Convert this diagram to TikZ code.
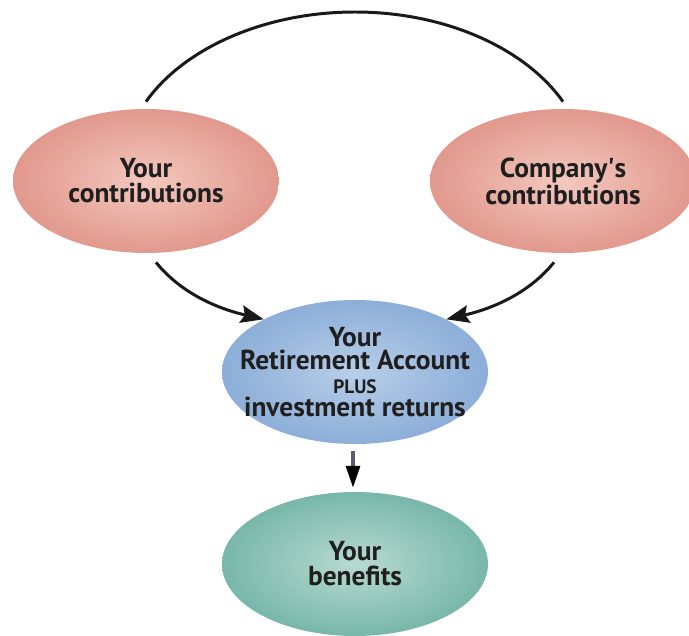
\documentclass[tikz,border=0pt]{standalone}
\usepackage{fontspec}
\setmainfont{PT Sans}
\usetikzlibrary{shapes.geometric,arrows.meta}

\definecolor{pinkedge}{RGB}{226,152,141}
\definecolor{pinkmid}{RGB}{243,200,190}
\definecolor{blueedge}{RGB}{140,174,216}
\definecolor{bluemid}{RGB}{184,206,233}
\definecolor{tealedge}{RGB}{120,183,170}
\definecolor{tealmid}{RGB}{184,218,209}
\definecolor{slate}{RGB}{85,95,115}

\tikzset{
  bubble/.style={ellipse, minimum width=5.32cm, minimum height=2.88cm,
    inner xsep=-14pt, inner ysep=0pt, align=center, text=black!88,
    font=\bfseries\fontsize{15.6}{14.2}\selectfont},
  pinkbubble/.style={bubble, shading=radial, inner color=pinkmid, outer color=pinkedge},
  bluebubble/.style={bubble, shading=radial, inner color=bluemid, outer color=blueedge,
    font=\bfseries\fontsize{15.6}{13.4}\selectfont},
  tealbubble/.style={bubble, shading=radial, inner color=tealmid, outer color=tealedge},
  link/.style={line width=1.7pt, black!90},
  flow/.style={link, -{Stealth[length=13pt,width=10pt,inset=2pt]}},
  stem/.style={line width=2.8pt, slate, -{Triangle[length=13pt,width=7.5pt,color=black]}}
}

\begin{document}
\begin{tikzpicture}[x=0.02cm,y=-0.02cm]
  \useasboundingbox (0,0) rectangle (689,635);

  % the four bubbles
  \node[pinkbubble] (you) at (146,181) {Your\\contributions};
  \node[pinkbubble] (firm) at (563,181) {Company\textquotesingle s\\contributions};
  \node[bluebubble] (acct) at (355,372)
    {Your\\Retirement Account\\{\fontsize{11}{11}\selectfont PLUS}\\investment returns};
  \node[tealbubble] (benefit) at (355,564) {Your\\benefits};

  % arc over the top and the arrows into the account
  \coordinate (arctop) at (355,12);
  \draw[link] ([shift={(0,-7)}]you.north) .. controls (184,48) and (265,12) .. (arctop)
    .. controls (445,12) and (525,48) .. ([shift={(0,-7)}]firm.north);
  \draw[flow] ([shift={(10,9)}]you.south) .. controls (180,292) and (215,308) .. (acct.150);
  \draw[flow] ([shift={(-9,9)}]firm.south) .. controls (530,292) and (495,308) .. (acct.30);
  \draw[stem] ([shift={(-2,7)}]acct.south) -- ([shift={(-2,-3)}]benefit.north);
\end{tikzpicture}
\end{document}
